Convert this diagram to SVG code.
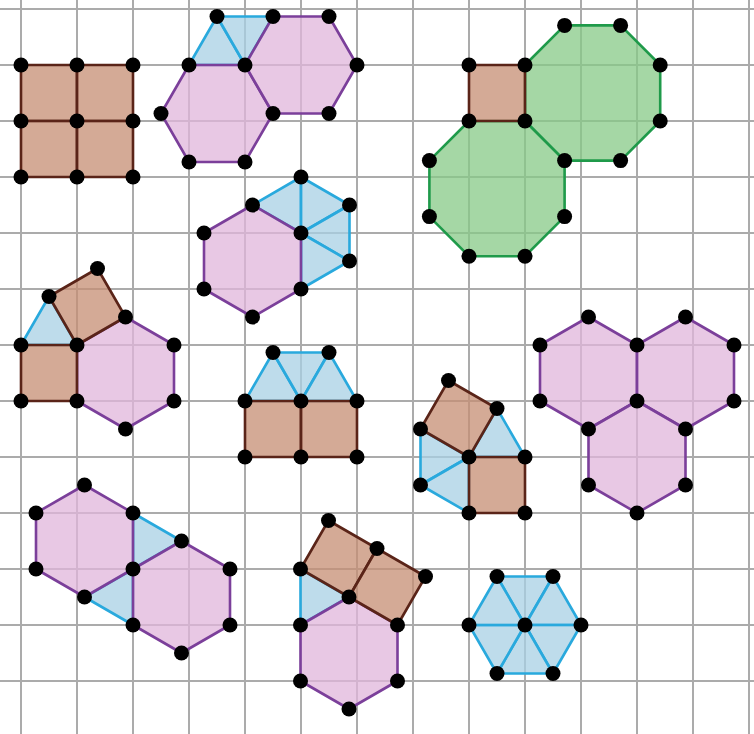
<svg xmlns="http://www.w3.org/2000/svg" width="754" height="734" viewBox="0 0 754 734">
<style>
.g{stroke:#ababab;stroke-width:2;fill:none}
.sq{fill:#c68e73;fill-opacity:.75;stroke:#5a2418;stroke-width:2.6;stroke-linejoin:round}
.hx{fill:#e0b6db;fill-opacity:.75;stroke:#7b3f9a;stroke-width:2.6;stroke-linejoin:round}
.tr{fill:#a8d0e4;fill-opacity:.75;stroke:#29a9dd;stroke-width:2.6;stroke-linejoin:round}
.oc{fill:#87ca87;fill-opacity:.75;stroke:#1f9a4a;stroke-width:2.6;stroke-linejoin:round}
circle{fill:#000}
</style>
<rect width="754" height="734" fill="#fff"/>
<g id="grid" class="g">
<path d="M21 0V734M77 0V734M133 0V734M189 0V734M245 0V734M301 0V734M357 0V734M413 0V734M469 0V734M525 0V734M581 0V734M637 0V734M693 0V734M749 0V734"/>
<path d="M0 9H754M0 65H754M0 121H754M0 177H754M0 233H754M0 289H754M0 345H754M0 401H754M0 457H754M0 513H754M0 569H754M0 625H754M0 681H754"/>
</g>
<g id="shape-squares">
<polygon class="sq" points="21,65 77,65 77,121 21,121"/>
<polygon class="sq" points="77,65 133,65 133,121 77,121"/>
<polygon class="sq" points="21,121 77,121 77,177 21,177"/>
<polygon class="sq" points="77,121 133,121 133,177 77,177"/>
<g>
<circle cx="21" cy="65" r="7.5"/><circle cx="77" cy="65" r="7.5"/><circle cx="133" cy="65" r="7.5"/>
<circle cx="21" cy="121" r="7.5"/><circle cx="77" cy="121" r="7.5"/><circle cx="133" cy="121" r="7.5"/>
<circle cx="21" cy="177" r="7.5"/><circle cx="77" cy="177" r="7.5"/><circle cx="133" cy="177" r="7.5"/>
</g>
</g>
<g id="shape-hex-pair-top">
<polygon class="tr" points="189,65 217,16.5 245,65"/>
<polygon class="tr" points="217,16.5 273,16.5 245,65"/>
<polygon class="hx" points="189,65 245,65 273,113.5 245,162 189,162 161,113.5"/>
<polygon class="hx" points="245,65 273,16.5 329,16.5 357,65 329,113.5 273,113.5"/>
<g>
<circle cx="217" cy="16.5" r="7.5"/><circle cx="273" cy="16.5" r="7.5"/><circle cx="329" cy="16.5" r="7.5"/>
<circle cx="189" cy="65" r="7.5"/><circle cx="245" cy="65" r="7.5"/><circle cx="357" cy="65" r="7.5"/>
<circle cx="161" cy="113.5" r="7.5"/><circle cx="273" cy="113.5" r="7.5"/><circle cx="329" cy="113.5" r="7.5"/>
<circle cx="189" cy="162" r="7.5"/><circle cx="245" cy="162" r="7.5"/>
</g>
</g>
<g id="shape-octagons">
<polygon class="oc" points="525,65 564.6,25.4 620.6,25.4 660.2,65 660.2,121 620.6,160.6 564.6,160.6 525,121"/>
<polygon class="oc" points="469,121 525,121 564.6,160.6 564.6,216.6 525,256.2 469,256.2 429.4,216.6 429.4,160.6"/>
<polygon class="sq" points="469,65 525,65 525,121 469,121"/>
<g>
<circle cx="564.6" cy="25.4" r="7.5"/><circle cx="620.6" cy="25.4" r="7.5"/>
<circle cx="469" cy="65" r="7.5"/><circle cx="525" cy="65" r="7.5"/><circle cx="660.2" cy="65" r="7.5"/>
<circle cx="469" cy="121" r="7.5"/><circle cx="525" cy="121" r="7.5"/><circle cx="660.2" cy="121" r="7.5"/>
<circle cx="429.4" cy="160.6" r="7.5"/><circle cx="564.6" cy="160.6" r="7.5"/><circle cx="620.6" cy="160.6" r="7.5"/>
<circle cx="429.4" cy="216.6" r="7.5"/><circle cx="564.6" cy="216.6" r="7.5"/>
<circle cx="469" cy="256.2" r="7.5"/><circle cx="525" cy="256.2" r="7.5"/>
</g>
</g>
<g id="shape-hex-4tri">
<polygon class="tr" points="252.5,205 301,177 301,233"/>
<polygon class="tr" points="301,177 349.5,205 301,233"/>
<polygon class="tr" points="349.5,205 349.5,261 301,233"/>
<polygon class="tr" points="349.5,261 301,289 301,233"/>
<polygon class="hx" points="252.5,205 301,233 301,289 252.5,317 204,289 204,233"/>
<g>
<circle cx="301" cy="177" r="7.5"/><circle cx="252.5" cy="205" r="7.5"/><circle cx="349.5" cy="205" r="7.5"/>
<circle cx="204" cy="233" r="7.5"/><circle cx="301" cy="233" r="7.5"/><circle cx="349.5" cy="261" r="7.5"/>
<circle cx="204" cy="289" r="7.5"/><circle cx="301" cy="289" r="7.5"/><circle cx="252.5" cy="317" r="7.5"/>
</g>
</g>
<g id="shape-tri-sq-sq-hex">
<polygon class="tr" points="21,345 49,296.5 77,345"/>
<polygon class="hx" points="77,345 125.5,317 174,345 174,401 125.5,429 77,401"/>
<polygon class="sq" points="21,345 77,345 77,401 21,401"/>
<polygon class="sq" points="77,345 49,296.5 97.5,268.5 125.5,317"/>
<g>
<circle cx="97.5" cy="268.5" r="7.5"/><circle cx="49" cy="296.5" r="7.5"/><circle cx="125.5" cy="317" r="7.5"/>
<circle cx="21" cy="345" r="7.5"/><circle cx="77" cy="345" r="7.5"/><circle cx="174" cy="345" r="7.5"/>
<circle cx="21" cy="401" r="7.5"/><circle cx="77" cy="401" r="7.5"/><circle cx="174" cy="401" r="7.5"/>
<circle cx="125.5" cy="429" r="7.5"/>
</g>
</g>
<g id="shape-sq-tri-row">
<polygon class="tr" points="245,401 273,352.5 301,401"/>
<polygon class="tr" points="273,352.5 329,352.5 301,401"/>
<polygon class="tr" points="301,401 329,352.5 357,401"/>
<polygon class="sq" points="245,401 301,401 301,457 245,457"/>
<polygon class="sq" points="301,401 357,401 357,457 301,457"/>
<g>
<circle cx="273" cy="352.5" r="7.5"/><circle cx="329" cy="352.5" r="7.5"/>
<circle cx="245" cy="401" r="7.5"/><circle cx="301" cy="401" r="7.5"/><circle cx="357" cy="401" r="7.5"/>
<circle cx="245" cy="457" r="7.5"/><circle cx="301" cy="457" r="7.5"/><circle cx="357" cy="457" r="7.5"/>
</g>
</g>
<g id="shape-sq-sq-3tri">
<polygon class="tr" points="469,457 497,408.5 525,457"/>
<polygon class="tr" points="420.5,429 469,457 420.5,485"/>
<polygon class="tr" points="420.5,485 469,457 469,513"/>
<polygon class="sq" points="469,457 525,457 525,513 469,513"/>
<polygon class="sq" points="469,457 420.5,429 448.5,380.5 497,408.5"/>
<g>
<circle cx="448.5" cy="380.5" r="7.5"/><circle cx="497" cy="408.5" r="7.5"/><circle cx="420.5" cy="429" r="7.5"/>
<circle cx="469" cy="457" r="7.5"/><circle cx="525" cy="457" r="7.5"/><circle cx="420.5" cy="485" r="7.5"/>
<circle cx="469" cy="513" r="7.5"/><circle cx="525" cy="513" r="7.5"/>
</g>
</g>
<g id="shape-three-hex">
<polygon class="hx" points="588.5,317 637,345 637,401 588.5,429 540,401 540,345"/>
<polygon class="hx" points="685.5,317 734,345 734,401 685.5,429 637,401 637,345"/>
<polygon class="hx" points="637,401 685.5,429 685.5,485 637,513 588.5,485 588.5,429"/>
<g>
<circle cx="588.5" cy="317" r="7.5"/><circle cx="685.5" cy="317" r="7.5"/>
<circle cx="540" cy="345" r="7.5"/><circle cx="637" cy="345" r="7.5"/><circle cx="734" cy="345" r="7.5"/>
<circle cx="540" cy="401" r="7.5"/><circle cx="637" cy="401" r="7.5"/><circle cx="734" cy="401" r="7.5"/>
<circle cx="588.5" cy="429" r="7.5"/><circle cx="685.5" cy="429" r="7.5"/>
<circle cx="588.5" cy="485" r="7.5"/><circle cx="685.5" cy="485" r="7.5"/>
<circle cx="637" cy="513" r="7.5"/>
</g>
</g>
<g id="shape-hex-pair-bottom">
<polygon class="tr" points="133,513 181.5,541 133,569"/>
<polygon class="tr" points="84.5,597 133,569 133,625"/>
<polygon class="hx" points="84.5,485 133,513 133,569 84.5,597 36,569 36,513"/>
<polygon class="hx" points="133,569 181.5,541 230,569 230,625 181.5,653 133,625"/>
<g>
<circle cx="84.5" cy="485" r="7.5"/><circle cx="36" cy="513" r="7.5"/><circle cx="133" cy="513" r="7.5"/>
<circle cx="181.5" cy="541" r="7.5"/><circle cx="36" cy="569" r="7.5"/><circle cx="133" cy="569" r="7.5"/>
<circle cx="230" cy="569" r="7.5"/><circle cx="84.5" cy="597" r="7.5"/><circle cx="133" cy="625" r="7.5"/>
<circle cx="230" cy="625" r="7.5"/><circle cx="181.5" cy="653" r="7.5"/>
</g>
</g>
<g id="shape-hex-sq-sq-tri">
<polygon class="tr" points="300.5,625 300.5,569 349,597"/>
<polygon class="hx" points="349,597 397.5,625 397.5,681 349,709 300.5,681 300.5,625"/>
<polygon class="sq" points="300.5,569 349,597 377,548.5 328.5,520.5"/>
<polygon class="sq" points="349,597 397.5,625 425.5,576.5 377,548.5"/>
<g>
<circle cx="328.5" cy="520.5" r="7.5"/><circle cx="377" cy="548.5" r="7.5"/><circle cx="300.5" cy="569" r="7.5"/>
<circle cx="425.5" cy="576.5" r="7.5"/><circle cx="349" cy="597" r="7.5"/><circle cx="300.5" cy="625" r="7.5"/>
<circle cx="397.5" cy="625" r="7.5"/><circle cx="300.5" cy="681" r="7.5"/><circle cx="397.5" cy="681" r="7.5"/>
<circle cx="349" cy="709" r="7.5"/>
</g>
</g>
<g id="shape-six-tri">
<polygon class="tr" points="525,625 497,576.5 553,576.5"/>
<polygon class="tr" points="525,625 553,576.5 581,625"/>
<polygon class="tr" points="525,625 581,625 553,673.5"/>
<polygon class="tr" points="525,625 553,673.5 497,673.5"/>
<polygon class="tr" points="525,625 497,673.5 469,625"/>
<polygon class="tr" points="525,625 469,625 497,576.5"/>
<g>
<circle cx="497" cy="576.5" r="7.5"/><circle cx="553" cy="576.5" r="7.5"/>
<circle cx="469" cy="625" r="7.5"/><circle cx="525" cy="625" r="7.5"/><circle cx="581" cy="625" r="7.5"/>
<circle cx="497" cy="673.5" r="7.5"/><circle cx="553" cy="673.5" r="7.5"/>
</g>
</g>
</svg>
